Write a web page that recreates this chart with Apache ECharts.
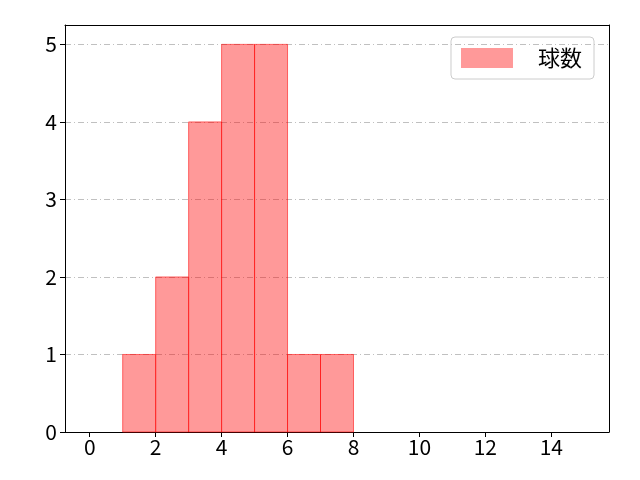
<!DOCTYPE html>
<html>
<head>
<meta charset="utf-8">
<script src="https://cdn.jsdelivr.net/npm/echarts@6/dist/echarts.min.js"></script>
<style>
  html, body { margin: 0; padding: 0; background: #fff; }
  #main { width: 640px; height: 480px; }
</style>
</head>
<body>
<div id="main"></div>
<script>
var binStarts = [1, 2, 3, 4, 5, 6, 7];
var binEnds = [2, 3, 4, 5, 6, 7, 8];
var counts = [1, 2, 4, 5, 5, 1, 1];
var xTicks = [0, 2, 4, 6, 8, 10, 12, 14];
var yTicks = [0, 1, 2, 3, 4, 5];
var seriesName = '球数';

var font = '"Noto Sans CJK JP", "Noto Sans", sans-serif';
var chart = echarts.init(document.getElementById('main'));

var barData = [];
for (var i = 0; i < counts.length; i++) {
    barData.push([binStarts[i], binEnds[i], counts[i]]);
}

var frameAxis = {
    type: 'value',
    min: 0, max: 1,
    axisLine: { show: true, onZero: false, lineStyle: { color: '#000', width: 1 } },
    axisTick: { show: false },
    axisLabel: { show: false },
    splitLine: { show: false }
};

var option = {
    animation: false,
    grid: { left: 65, right: 31, top: 25, bottom: 48 },
    legend: {
        data: [{ name: seriesName, icon: 'rect' }],
        right: 46,
        top: 37,
        itemWidth: 52,
        itemHeight: 20,
        itemGap: 10,
        padding: [10, 12, 10, 10],
        borderColor: '#cccccc',
        borderWidth: 1,
        borderRadius: 4,
        textStyle: { fontFamily: font, fontSize: 22, color: '#000', padding: [0, 0, 0, 20] }
    },
    xAxis: [{
        type: 'value',
        min: -0.75,
        max: 15.75,
        splitLine: { show: false },
        axisLine: { onZero: false, lineStyle: { color: '#000', width: 1 } },
        axisTick: { show: true, customValues: xTicks, length: 5, lineStyle: { color: '#000' } },
        axisLabel: { customValues: xTicks, fontFamily: font, fontSize: 21, color: '#000', margin: 5 }
    }, Object.assign({ position: 'top' }, frameAxis)],
    yAxis: [{
        type: 'value',
        min: 0,
        max: 5.25,
        axisLine: { show: true, onZero: false, lineStyle: { color: '#000', width: 1 } },
        axisTick: { show: true, customValues: yTicks, length: 5, lineStyle: { color: '#000' } },
        axisLabel: { customValues: yTicks, fontFamily: font, fontSize: 21, color: '#000', margin: 8 },
        splitLine: {
            show: true,
            customValues: yTicks,
            lineStyle: { color: '#b0b0b0', width: 0.8, type: [6, 3, 1, 3] }
        }
    }, Object.assign({ position: 'right' }, frameAxis)],
    series: [{
        name: seriesName,
        type: 'custom',
        itemStyle: { color: 'rgba(255,0,0,0.4)' },
        renderItem: function (params, api) {
            var p0 = api.coord([api.value(0), api.value(2)]);
            var p1 = api.coord([api.value(1), 0]);
            return {
                type: 'rect',
                shape: { x: p0[0], y: p0[1], width: p1[0] - p0[0], height: p1[1] - p0[1] },
                style: { fill: 'rgba(255,0,0,0.4)', stroke: 'rgba(255,0,0,0.55)', lineWidth: 1 }
            };
        },
        encode: { x: [0, 1], y: 2 },
        data: barData
    }]
};

chart.setOption(option);
</script>
</body>
</html>
